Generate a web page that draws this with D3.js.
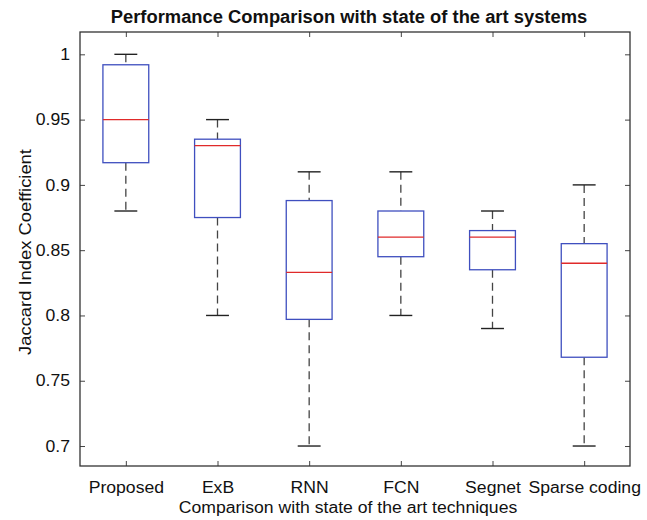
<!DOCTYPE html>
<html>
<head>
<meta charset="utf-8">
<title>Performance Comparison</title>
<script src="https://d3js.org/d3.v7.min.js"></script>
<style>
body { margin: 0; background: #fff; }
text { font-family: "Liberation Sans", Arial, sans-serif; fill: #111; }
</style>
</head>
<body>
<div class="chart"></div>
<script>
// values
var categories = ["Proposed", "ExB", "RNN", "FCN", "Segnet", "Sparse coding"];
var whiskerLow  = [0.88, 0.80, 0.70, 0.80, 0.79, 0.70];
var q1          = [0.917, 0.875, 0.797, 0.845, 0.835, 0.768];
var medians     = [0.95, 0.93, 0.833, 0.86, 0.86, 0.84];
var q3          = [0.992, 0.935, 0.888, 0.88, 0.865, 0.855];
var whiskerHigh = [1.00, 0.95, 0.91, 0.91, 0.88, 0.90];
var yTicks = [0.7, 0.75, 0.8, 0.85, 0.9, 0.95, 1];

var W = 647, H = 520;
var margin = {top: 32, right: 17, bottom: 54, left: 80};
var x0 = margin.left, x1 = W - margin.right, y0 = H - margin.bottom, y1 = margin.top;

var svg = d3.select(".chart").append("svg")
    .attr("width", W)
    .attr("height", H);

var xScale = d3.scalePoint()
    .domain(categories)
    .range([x0, x1])
    .padding(0.5);
var step = xScale.step();

var yScale = d3.scaleLinear()
    .domain([0.6847, 1.0171])
    .range([y0, y1]);

// the picture is a bit wider than normal text, so stretch every label
function stretch(sel, k) {
  sel.each(function() {
    var w = this.getComputedTextLength();
    d3.select(this).attr("textLength", w * k).attr("lengthAdjust", "spacingAndGlyphs");
  });
}

var data = categories.map(function(c, i) {
  return {name: c, lo: whiskerLow[i], q1: q1[i], med: medians[i], q3: q3[i], hi: whiskerHigh[i]};
});

var g = svg.selectAll(".box")
    .data(data)
    .enter().append("g")
    .attr("class", "box");

// whiskers (dashed)
g.append("line")
    .attr("x1", function(d) { return xScale(d.name); })
    .attr("x2", function(d) { return xScale(d.name); })
    .attr("y1", function(d) { return yScale(d.hi); })
    .attr("y2", function(d) { return yScale(d.q3); })
    .attr("stroke", "#444").attr("stroke-width", 1.3)
    .attr("stroke-dasharray", "8,5");
g.append("line")
    .attr("x1", function(d) { return xScale(d.name); })
    .attr("x2", function(d) { return xScale(d.name); })
    .attr("y1", function(d) { return yScale(d.q1); })
    .attr("y2", function(d) { return yScale(d.lo); })
    .attr("stroke", "#444").attr("stroke-width", 1.3)
    .attr("stroke-dasharray", "8,5");

// caps
["hi", "lo"].forEach(function(k) {
  g.append("line")
      .attr("x1", function(d) { return xScale(d.name) - step * 0.125; })
      .attr("x2", function(d) { return xScale(d.name) + step * 0.125; })
      .attr("y1", function(d) { return yScale(d[k]); })
      .attr("y2", function(d) { return yScale(d[k]); })
      .attr("stroke", "#222").attr("stroke-width", 1.4);
});

// boxes
g.append("rect")
    .attr("x", function(d) { return xScale(d.name) - step * 0.25; })
    .attr("width", step * 0.5)
    .attr("y", function(d) { return yScale(d.q3); })
    .attr("height", function(d) { return yScale(d.q1) - yScale(d.q3); })
    .attr("fill", "#fff")
    .attr("stroke", "#3f4fbf").attr("stroke-width", 1.3);

// medians
g.append("line")
    .attr("x1", function(d) { return xScale(d.name) - step * 0.25; })
    .attr("x2", function(d) { return xScale(d.name) + step * 0.25; })
    .attr("y1", function(d) { return yScale(d.med); })
    .attr("y2", function(d) { return yScale(d.med); })
    .attr("stroke", "#e02a2a").attr("stroke-width", 1.3);

// axes, MATLAB style: ticks inside on all four sides
var tickLen = 5;
svg.append("g")
    .attr("transform", "translate(0," + y0 + ")")
    .call(d3.axisBottom(xScale).tickSizeInner(-tickLen).tickSizeOuter(0).tickPadding(16))
    .call(function(a) { a.select(".domain").remove(); })
    .call(function(a) { a.selectAll("line").attr("stroke", "#444"); })
    .selectAll("text").attr("font-size", 16).attr("fill", "#111").call(stretch, 1.1);

svg.append("g")
    .attr("transform", "translate(0," + y1 + ")")
    .call(d3.axisTop(xScale).tickSizeInner(-tickLen).tickSizeOuter(0).tickFormat(""))
    .call(function(a) { a.select(".domain").remove(); })
    .call(function(a) { a.selectAll("line").attr("stroke", "#444"); });

svg.append("g")
    .attr("transform", "translate(" + x0 + ",0)")
    .call(d3.axisLeft(yScale).tickValues(yTicks).tickSizeInner(-tickLen).tickSizeOuter(0).tickPadding(10).tickFormat(d3.format("")))
    .call(function(a) { a.select(".domain").remove(); })
    .call(function(a) { a.selectAll("line").attr("stroke", "#444"); })
    .selectAll("text").attr("font-size", 16).attr("fill", "#111").call(stretch, 1.1);

svg.append("g")
    .attr("transform", "translate(" + x1 + ",0)")
    .call(d3.axisRight(yScale).tickValues(yTicks).tickSizeInner(-tickLen).tickSizeOuter(0).tickFormat(""))
    .call(function(a) { a.select(".domain").remove(); })
    .call(function(a) { a.selectAll("line").attr("stroke", "#444"); });

// frame
svg.append("rect")
    .attr("x", x0).attr("y", y1)
    .attr("width", x1 - x0).attr("height", y0 - y1)
    .attr("fill", "none").attr("stroke", "#333").attr("stroke-width", 1.3);

// title and labels
svg.append("text")
    .attr("x", 349).attr("y", 23)
    .attr("text-anchor", "middle")
    .attr("font-size", 18).attr("font-weight", "bold")
    .text("Performance Comparison with state of the art systems")
    .call(stretch, 1.02);

svg.append("text")
    .attr("x", 348).attr("y", 513)
    .attr("text-anchor", "middle")
    .attr("font-size", 16)
    .text("Comparison with state of the art techniques")
    .call(stretch, 1.1);

svg.append("text")
    .attr("transform", "translate(31,252) rotate(-90)")
    .attr("text-anchor", "middle")
    .attr("font-size", 17)
    .text("Jaccard Index Coefficient")
    .call(stretch, 1.08);
</script>
</body>
</html>
